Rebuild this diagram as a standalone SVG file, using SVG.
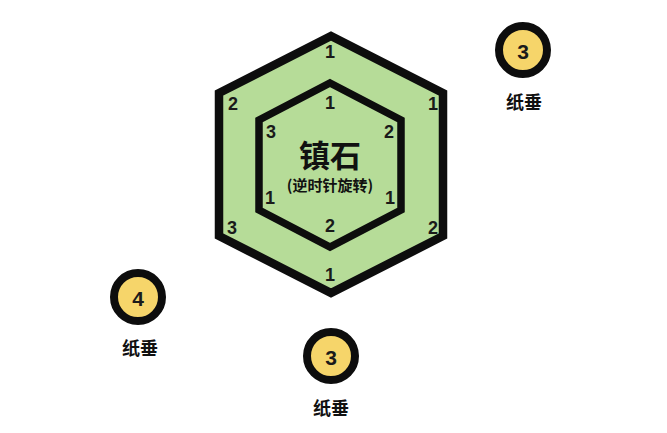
<svg xmlns="http://www.w3.org/2000/svg" width="667" height="433" viewBox="0 0 667 433">
<style>
.hex{fill:#b6dc98;stroke:#0d0d0d;stroke-linejoin:miter}
.n{font-family:"Liberation Sans","Noto Sans CJK SC",sans-serif;font-weight:bold;font-size:18px;fill:#1a1a1a;text-anchor:middle;dominant-baseline:central}
.c{fill:#f6d56a;stroke:#0d0d0d;stroke-width:8}
.cn{font-family:"Liberation Sans","Noto Sans CJK SC",sans-serif;font-weight:bold;font-size:21px;fill:#1a1a1a;text-anchor:middle;dominant-baseline:central}
.lb{font-family:"Noto Sans CJK SC",sans-serif;font-weight:bold;font-size:18px;fill:#111;text-anchor:middle;dominant-baseline:central}
.title{font-family:"Noto Sans CJK SC",sans-serif;font-weight:bold;font-size:31px;fill:#111;text-anchor:middle;dominant-baseline:central}
.sub{font-family:"Noto Sans CJK SC",sans-serif;font-weight:bold;font-size:15px;fill:#111;text-anchor:middle;dominant-baseline:central}
</style>
<rect width="667" height="433" fill="#ffffff"/>
<g id="outer-hex">
<polygon class="hex" stroke-width="8.5" points="331,36 443,93 443,236 331,293 219,236 219,93"/>
<text class="n" x="330" y="52">1</text>
<text class="n" x="233" y="104">2</text>
<text class="n" x="433" y="104">1</text>
<text class="n" x="232" y="228">3</text>
<text class="n" x="433" y="228">2</text>
<text class="n" x="330" y="275">1</text>
</g>
<g id="inner-hex">
<polygon class="hex" stroke-width="7.5" points="330,83 401,120 401,210 330,247 259,210 259,120"/>
<text class="n" x="330" y="103">1</text>
<text class="n" x="271" y="132">3</text>
<text class="n" x="389" y="132">2</text>
<text class="n" x="270" y="198">1</text>
<text class="n" x="390" y="198">1</text>
<text class="n" x="330" y="226">2</text>
<text class="title" x="330" y="153">镇石</text>
<text class="sub" x="330" y="184">(逆时针旋转)</text>
</g>
<g id="weight-top-right">
<circle class="c" cx="523" cy="50" r="24"/>
<text class="cn" x="523" y="51">3</text>
<text class="lb" x="524" y="101">纸垂</text>
</g>
<g id="weight-left">
<circle class="c" cx="138" cy="297" r="24"/>
<text class="cn" x="138" y="298">4</text>
<text class="lb" x="140" y="347">纸垂</text>
</g>
<g id="weight-bottom">
<circle class="c" cx="331" cy="356" r="24"/>
<text class="cn" x="331" y="357">3</text>
<text class="lb" x="331" y="407">纸垂</text>
</g>
<g id="connectors"></g>
</svg>
